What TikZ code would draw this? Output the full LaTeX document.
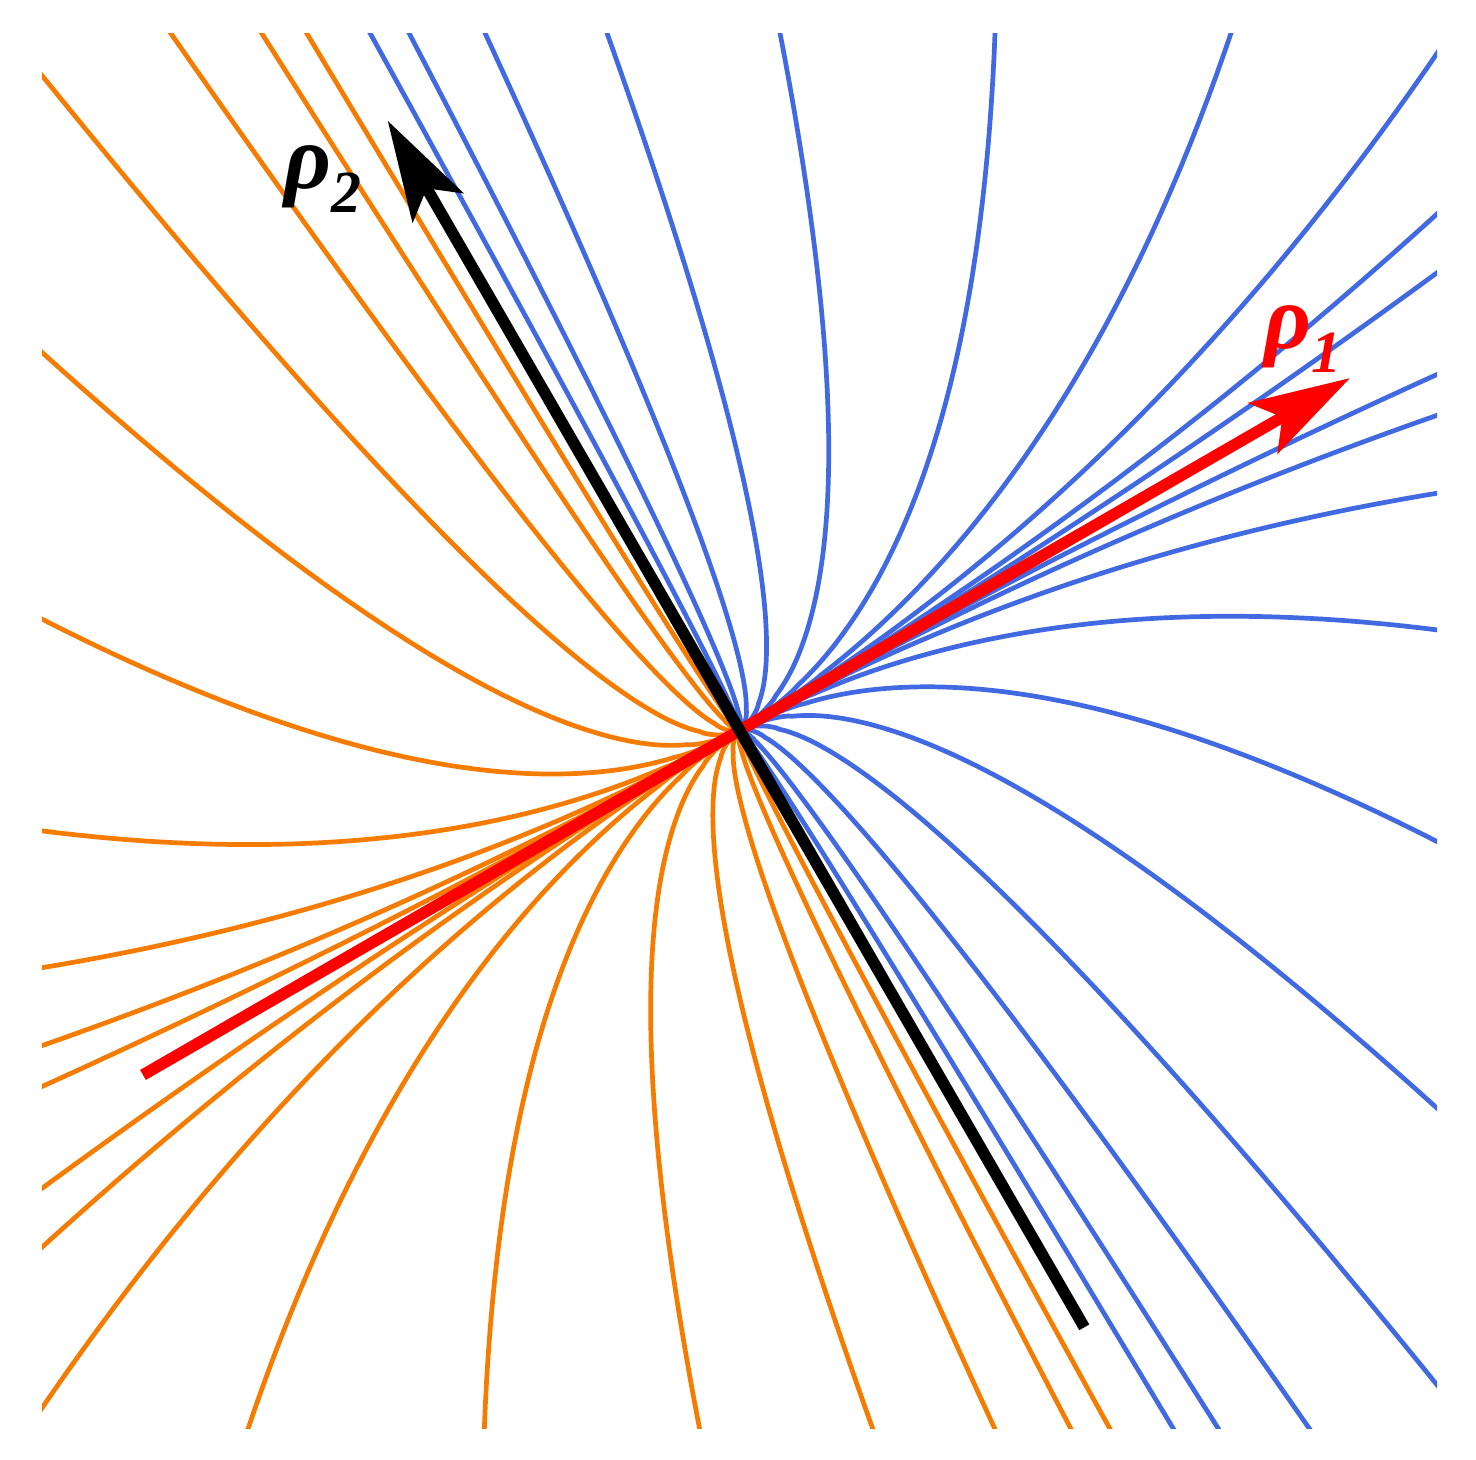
\documentclass[tikz,border=0pt]{standalone}
\usepackage{fontspec}
\newfontfamily\lblfont{Liberation Serif}
\usetikzlibrary{arrows.meta}
\definecolor{flowblue}{RGB}{65,105,225}
\definecolor{floworange}{RGB}{245,124,0}
\definecolor{arrred}{RGB}{255,0,0}
% each trajectory: w = we * s^1.9, u = ue * s  (u along rho1, w along rho2)
\newcommand\flowfan[1]{%
  \foreach \ue/\we in {28.54/788.8, 62.31/769.3, 128.13/731.3, 233.78/670.3,
      383.6/583.8, 569.8/476.3, 774.2/358.3, 943.9/238.4, 863.4/98.9,
      833.9/47.8, 782.9/-40.5, 762.4/-76.0, 723.4/-143.6, 654.9/-262.2,
      548.9/-445.8, 415.4/-677.0, 276.9/-916.9, 144.2/-888.8,
      65.4/-843.3, 26.4/-820.8}{%
    \draw[#1] (0,0) -- plot[domain=0.002:1.08,samples=140] ({\ue*\x},{\we*(\x^1.9)});
  }%
}
\tikzset{
  flowcurve/.style={line width=0.047cm, line join=round},
  vecarrow/.style={line width=0.115cm, -{Stealth[length=1cm,width=0.58cm,inset=0.22cm]}},
  lbl/.style={anchor=base west, inner sep=0pt,
    font=\lblfont\bfseries\itshape\fontsize{26}{26}\selectfont}
}
\begin{document}
\begin{tikzpicture}[x=0.01cm,y=0.01cm]
\fill[white] (-739.7,-728.6) rectangle (736.3,730.4);
\useasboundingbox (-739.7,-728.6) rectangle (736.3,730.4);
\begin{scope}
  \clip (-697.7,-697.6) rectangle (697.3,697.4);
  \begin{scope}[rotate=30]
    \flowfan{flowcurve, flowblue}
  \end{scope}
  \begin{scope}[rotate=210]
    \flowfan{flowcurve, floworange}
  \end{scope}
\end{scope}
\coordinate (O) at (0,0);
\coordinate (rtail) at (210:689);
\coordinate (rtip) at (30:704.7);
\coordinate (btail) at (300:689.2);
\coordinate (btip) at (120:704);
\draw[vecarrow, arrred] (rtail) -- (rtip);
\draw[vecarrow, black] (btail) -- (btip);
\node[lbl, text=black] (rho2) at (-456,542.4) {ρ\raisebox{-7.1pt}{\fontsize{17}{17}\selectfont 2}};
\node[lbl, text=arrred] (rho1) at (524,382.4) {ρ\raisebox{-7.1pt}{\fontsize{17}{17}\selectfont 1}};
\end{tikzpicture}
\end{document}
